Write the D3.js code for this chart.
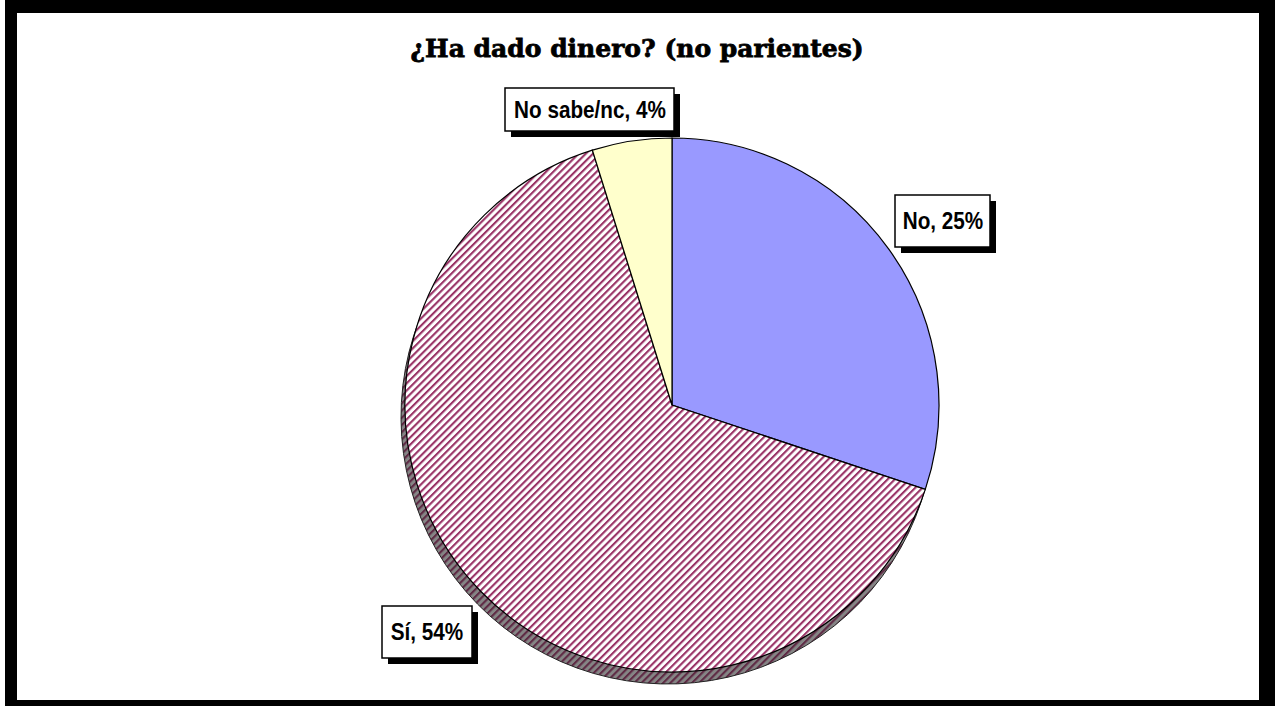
<!DOCTYPE html>
<html>
<head>
<meta charset="utf-8">
<script src="https://cdn.jsdelivr.net/npm/d3@7"></script>
<style>
  html, body { margin: 0; padding: 0; background: #fff; }
  svg { display: block; }
</style>
</head>
<body>
<div id="chart"></div>
<script>
const title = "¿Ha dado dinero? (no parientes)";
const categories = ["No", "Sí", "No sabe/nc"];
const values = [25, 54, 4];
const labelTexts = ["No, 25%", "Sí, 54%", "No sabe/nc, 4%"];
const fills = ["#9999FF", "url(#hatch)", "#FFFFCC"];

const W = 1275, H = 706;
const svg = d3.select("#chart").append("svg").attr("width", W).attr("height", H);

const defs = svg.append("defs");
const hatch = defs.append("pattern").attr("id", "hatch")
  .attr("patternUnits", "userSpaceOnUse").attr("width", 5.1).attr("height", 5)
  .attr("patternTransform", "rotate(45)");
hatch.append("rect").attr("width", 5.1).attr("height", 5).attr("fill", "#fff");
hatch.append("rect").attr("x", 0).attr("width", 2.1).attr("height", 5).attr("fill", "#993366");

const hatchDark = defs.append("pattern").attr("id", "hatchDark")
  .attr("patternUnits", "userSpaceOnUse").attr("width", 5.1).attr("height", 5)
  .attr("patternTransform", "rotate(45)");
hatchDark.append("rect").attr("width", 5.1).attr("height", 5).attr("fill", "#858585");
hatchDark.append("rect").attr("x", 0).attr("width", 2.1).attr("height", 5).attr("fill", "#5e2a44");

// frame
svg.append("rect").attr("x", 5).attr("y", 0).attr("width", W - 5).attr("height", H).attr("fill", "#000");
svg.append("rect").attr("x", 17).attr("y", 13).attr("width", 1259 - 17).attr("height", 700 - 13).attr("fill", "#fff");

// title
svg.append("text").attr("x", 637).attr("y", 57).attr("text-anchor", "middle")
  .attr("font-family", "'DejaVu Serif', serif").attr("font-weight", "bold")
  .attr("font-size", 25).attr("fill", "#000")
  .attr("stroke", "#000").attr("stroke-width", 0.8)
  .text(title);

const cx = 672, cy = 405, r = 267;
const pie = d3.pie().sort(null).value(d => d).startAngle(0).endAngle(2 * Math.PI);
const arcs = pie(values);
const arc = d3.arc().innerRadius(0).outerRadius(r);

// shadow / 3d edge
const sh = svg.append("g").attr("transform", `translate(${cx - 4},${cy + 12})`);
sh.selectAll("path").data(arcs).join("path")
  .attr("d", arc)
  .attr("fill", (d, i) => i === 1 ? "url(#hatchDark)" : "#808080")
  .attr("stroke", "#222").attr("stroke-width", 1);

const g = svg.append("g").attr("transform", `translate(${cx},${cy})`);
g.selectAll("path").data(arcs).join("path")
  .attr("d", arc)
  .attr("fill", (d, i) => fills[i])
  .attr("stroke", "#000").attr("stroke-width", 1.2);

// labels
const boxes = [
  { x: 895, y: 195, w: 95, h: 52, tx: 943, ty: 229 },
  { x: 382, y: 606, w: 90, h: 52, tx: 427, ty: 640 },
  { x: 505, y: 88, w: 169, h: 43, tx: 590, ty: 118 }
];
const lg = svg.append("g");
boxes.forEach((b, i) => {
  lg.append("rect").attr("x", b.x + 6).attr("y", b.y + 6).attr("width", b.w).attr("height", b.h).attr("fill", "#000");
  lg.append("rect").attr("x", b.x).attr("y", b.y).attr("width", b.w).attr("height", b.h)
    .attr("fill", "#fff").attr("stroke", "#000").attr("stroke-width", 1.5);
  lg.append("text")
    .attr("transform", `translate(${b.tx},${b.ty}) scale(0.9,1)`)
    .attr("text-anchor", "middle")
    .attr("font-family", "'Liberation Sans', Arial, sans-serif")
    .attr("font-weight", "bold").attr("font-size", 23).attr("fill", "#000")
    .text(labelTexts[i]);
});
</script>
</body>
</html>
